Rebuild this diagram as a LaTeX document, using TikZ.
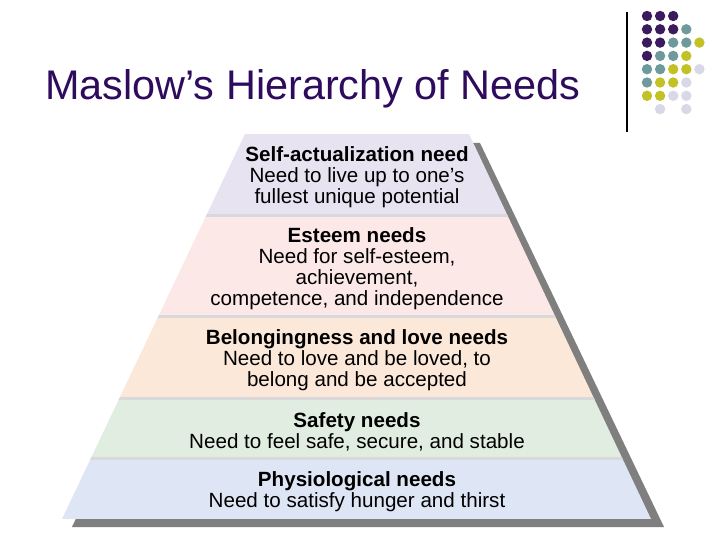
\documentclass[tikz,border=0pt]{standalone}
\usepackage{fontspec}
\setmainfont{Liberation Sans}
\definecolor{titlepurple}{HTML}{2E0B5C}
\definecolor{dotpurple}{HTML}{3C1A5E}
\definecolor{dotteal}{HTML}{6F9A9C}
\definecolor{dotolive}{HTML}{C2C126}
\definecolor{dotlilac}{HTML}{D8D8E8}
\definecolor{selfcol}{HTML}{E7E3F1}
\definecolor{esteemcol}{HTML}{FCE9E7}
\definecolor{lovecol}{HTML}{FCE8D9}
\definecolor{safecol}{HTML}{E0EDE0}
\definecolor{physcol}{HTML}{DEE5F4}
\definecolor{sepgray}{HTML}{D9D9DC}
\definecolor{shadowgray}{HTML}{7F7F7F}
\begin{document}
\begin{tikzpicture}[x=1pt, y=-1pt, every node/.style={inner sep=0pt, align=center,
						font=\fontsize{20.6}{21}\selectfont}]
			\useasboundingbox (0,0) rectangle (720,540);
			\fill[white] (0,0) rectangle (720,540);

			\node[anchor=base west, text=titlepurple, font=\fontsize{41.4}{41.4}\selectfont] (title) at (45,100) {Maslow’s Hierarchy of Needs};
			\draw[line width=1.2pt] (627,12) -- (627,132);

			\foreach \c/\r/\col in {0/0/dotpurple, 1/0/dotpurple, 2/0/dotpurple,
					0/1/dotpurple, 1/1/dotpurple, 2/1/dotpurple, 3/1/dotteal,
					0/2/dotpurple, 1/2/dotpurple, 2/2/dotteal, 3/2/dotteal, 4/2/dotolive,
					0/3/dotpurple, 1/3/dotteal, 2/3/dotteal, 3/3/dotolive,
					0/4/dotteal, 1/4/dotteal, 2/4/dotolive, 3/4/dotolive, 4/4/dotlilac,
					0/5/dotteal, 1/5/dotolive, 2/5/dotolive, 3/5/dotlilac,
					0/6/dotolive, 1/6/dotolive, 2/6/dotlilac, 3/6/dotlilac,
					1/7/dotlilac, 3/7/dotlilac}
				\fill[\col] (647+13.1*\c, 16+13.3*\r) circle (5.2);

			\fill[shadowgray] (255,143) -- (480,143) -- (664,527) -- (72,527) -- cycle;
			\begin{scope}
				\clip (245,134) -- (469,134) -- (651,519) -- (62,519) -- cycle;
				\fill[selfcol] (0,134) rectangle (720,216);
				\fill[esteemcol] (0,216) rectangle (720,316);
				\fill[lovecol] (0,316) rectangle (720,398);
				\fill[safecol] (0,398) rectangle (720,458);
				\fill[physcol] (0,458) rectangle (720,519);
				\foreach \y in {216,316,398,458}
					\draw[sepgray, line width=3pt] (0,\y) -- (720,\y);
			\end{scope}

			\node (self) at (357,177.5) {\textbf{Self-actualization need}\\Need to live up to one’s\\fullest unique potential};
			\node (esteem) at (357,268.5) {\textbf{Esteem needs}\\Need for self-esteem,\\achievement,\\competence, and independence};
			\node (love) at (357,360.5) {\textbf{Belongingness and love needs}\\Need to love and be loved, to\\belong and be accepted};
			\node (safety) at (357,431.5) {\textbf{Safety needs}\\Need to feel safe, secure, and stable};
			\node (phys) at (357,491.5) {\textbf{Physiological needs}\\Need to satisfy hunger and thirst};
		\end{tikzpicture}
\end{document}
